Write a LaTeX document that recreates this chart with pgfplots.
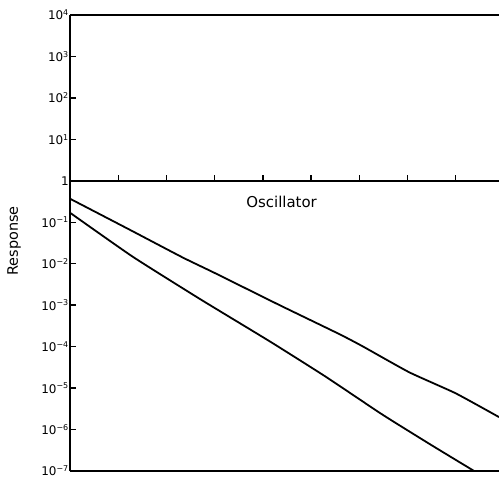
\documentclass[border=0pt]{standalone}
\usepackage{fontspec}
\setmainfont{DejaVu Sans}
\usepackage{pgfplots}
\pgfplotsset{compat=1.18}

\begin{document}
\begin{tikzpicture}
\begin{axis}[
  name=ax,
  scale only axis,
  width=429bp, height=456bp,
  ymode=log,
  xmin=0, xmax=8.9,
  ymin=1e-7, ymax=1e4,
  separate axis lines,
  axis x line=box,
  axis y line=left,
  axis line style={-, line width=1.6bp},
  every outer x axis line/.append style={-},
  every outer y axis line/.append style={-},
  xtick=\empty,
  ytick={1e-7,1e-6,1e-5,1e-4,1e-3,1e-2,1e-1,1,1e1,1e2,1e3,1e4},
  yticklabels={10\textsuperscript{−7},10\textsuperscript{−6},10\textsuperscript{−5},10\textsuperscript{−4},10\textsuperscript{−3},10\textsuperscript{−2},10\textsuperscript{−1},1,10\textsuperscript{1},10\textsuperscript{2},10\textsuperscript{3},10\textsuperscript{4}},
  yminorticks=false,
  tick align=inside,
  major tick length=6bp,
  tick style={line width=1.4bp, black},
  yticklabel style={font=\fontsize{12}{12}\selectfont, anchor=east, inner sep=0pt, xshift=-1bp},
  /pgf/number format/assume math mode=true,
  clip mode=individual,
]
% reference line at 1
\addplot[black, line width=1.6bp] coordinates {(0,1) (8.9,1)};
\pgfplotsinvokeforeach{1,...,8}{
  \draw[black, line width=1.4bp] (axis cs:#1,1) -- ++(0pt,6bp);
}
% upper curve
\addplot[black, line width=1.8bp, smooth, tension=0.3] coordinates {
  (0,0.37) (1.24,0.066) (2.34,0.0141) (3.0,0.0060) (4.35,1.0e-3)
  (5.59,2.0e-4) (6.07,1.02e-4) (7.04,2.4e-5) (8.0,7.5e-6) (8.9,2.0e-6)
};
% lower curve
\addplot[black, line width=1.8bp, smooth, tension=0.3] coordinates {
  (0,0.17) (1.30,0.0148) (2.7,1.4e-3) (4.14,1.35e-4) (5.3,1.9e-5)
  (6.48,2.3e-6) (7.5,4.2e-7) (8.45,9.0e-8) (8.9,4.5e-8)
};
\node[font=\fontsize{15}{15}\selectfont] at (axis cs:4.39,0.316) {Oscillator};
\end{axis}
\node[rotate=90, font=\fontsize{14.5}{14.5}\selectfont] at ([xshift=-56bp,yshift=2bp]ax.west) {Response};
\pgfresetboundingbox
\path ([xshift=-70bp,yshift=-6bp]ax.south west) rectangle ([yshift=15bp]ax.north east);
\end{tikzpicture}
\end{document}
